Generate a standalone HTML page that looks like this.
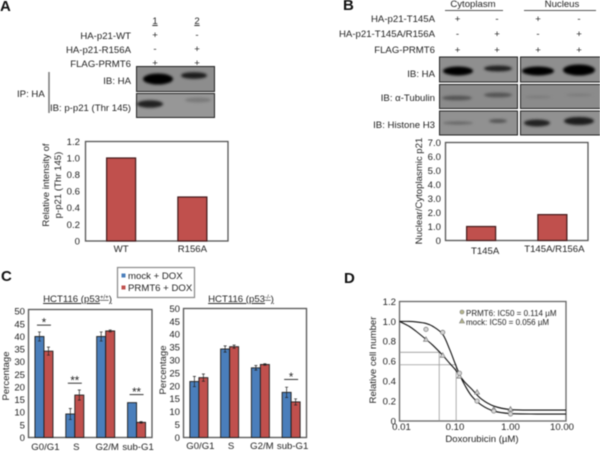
<!DOCTYPE html>
<html><head><meta charset="utf-8"><title>Figure</title>
<style>
html,body{margin:0;padding:0;background:#fff;width:600px;height:451px;overflow:hidden}
#fig{display:block;filter:blur(0.4px)}
text{font-family:"Liberation Sans",sans-serif;font-size:9.6px;fill:#222}
.e{text-anchor:end}.m{text-anchor:middle}
.p{font-weight:bold;font-size:15px;fill:#111}
</style></head>
<body>
<svg id="fig" width="600" height="451" viewBox="0 0 600 451" xmlns="http://www.w3.org/2000/svg">
<defs>
<filter id="b1" x="-40%" y="-80%" width="180%" height="260%"><feGaussianBlur stdDeviation="1.3"/></filter>
</defs>
<rect width="600" height="451" fill="#fff"/>

<text class="p" x="0" y="11">A</text>
<text class="p" x="343" y="10">B</text>
<text class="p" x="1" y="281">C</text>
<text class="p" x="344" y="283">D</text>

<g>
<text class="m" x="155" y="24" text-decoration="underline">1</text>
<text class="m" x="197" y="24" text-decoration="underline">2</text>
<text class="e" x="131" y="39">HA-p21-WT</text>
<text class="e" x="131" y="53">HA-p21-R156A</text>
<text class="e" x="131" y="67">FLAG-PRMT6</text>
<text class="m" x="155" y="38">+</text><text class="m" x="197" y="38">-</text>
<text class="m" x="155" y="52">-</text><text class="m" x="197" y="52">+</text>
<text class="m" x="155" y="66">+</text><text class="m" x="197" y="66">+</text>
<rect x="136.5" y="66.5" width="78" height="25" fill="#8d8d8d" stroke="#222"/>
<rect x="136.5" y="93.5" width="78" height="24" fill="#979797" stroke="#222"/>
<ellipse cx="158" cy="79" rx="15" ry="5.5" fill="#000" filter="url(#b1)"/>
<ellipse cx="194" cy="75.5" rx="13" ry="3.3" fill="#1a1a1a" filter="url(#b1)"/>
<ellipse cx="150" cy="104" rx="13" ry="3.8" fill="#222" filter="url(#b1)"/>
<ellipse cx="198" cy="100" rx="13" ry="2.5" fill="#7a7a7a" filter="url(#b1)"/>
<text class="e" x="131" y="84">IB: HA</text>
<text class="e" x="131" y="111">IB: p-p21 (Thr 145)</text>
<text x="17" y="97">IP: HA</text>
<line x1="49" y1="72" x2="49" y2="113" stroke="#777" stroke-width="1.5"/>
</g>

<g>
<text class="m" x="473" y="7">Cytoplasm</text>
<text class="m" x="562" y="7">Nucleus</text>
<line x1="445" y1="10.5" x2="503" y2="10.5" stroke="#555"/>
<line x1="524" y1="10.5" x2="596" y2="10.5" stroke="#555"/>
<text class="e" x="435" y="22">HA-p21-T145A</text>
<text class="e" x="435" y="37">HA-p21-T145A/R156A</text>
<text class="e" x="435" y="53">FLAG-PRMT6</text>
<text class="m" x="457.5" y="22">+</text><text class="m" x="497" y="22">-</text><text class="m" x="538" y="22">+</text><text class="m" x="579" y="22">-</text>
<text class="m" x="457.5" y="37">-</text><text class="m" x="497" y="37">+</text><text class="m" x="538" y="37">-</text><text class="m" x="579" y="37">+</text>
<text class="m" x="457.5" y="53">+</text><text class="m" x="497" y="53">+</text><text class="m" x="538" y="53">+</text><text class="m" x="579" y="53">+</text>
<rect x="439.5" y="57" width="78" height="25" fill="#8f8f8f" stroke="#222"/>
<rect x="520.5" y="57" width="80" height="25" fill="#8f8f8f" stroke="#222"/>
<rect x="439.5" y="84.5" width="78" height="24" fill="#8b8b8b" stroke="#222"/>
<rect x="520.5" y="84.5" width="80" height="24" fill="#8b8b8b" stroke="#222"/>
<rect x="439.5" y="111" width="78" height="24" fill="#919191" stroke="#222"/>
<rect x="520.5" y="111" width="80" height="24" fill="#919191" stroke="#222"/>
<g filter="url(#b1)">
<ellipse cx="458" cy="71" rx="15" ry="4.5" fill="#000"/><ellipse cx="498" cy="68.5" rx="14" ry="3" fill="#222"/>
<ellipse cx="538" cy="71" rx="16" ry="4.5" fill="#000"/><ellipse cx="579" cy="70" rx="16" ry="5.5" fill="#000"/>
<ellipse cx="457" cy="98" rx="15" ry="2.4" fill="#555"/><ellipse cx="498" cy="95" rx="14" ry="2.4" fill="#555"/>
<ellipse cx="538" cy="97" rx="13" ry="1.2" fill="#7a7a7a"/><ellipse cx="579" cy="95" rx="13" ry="1.2" fill="#7a7a7a"/>
<ellipse cx="458" cy="123" rx="15" ry="1.5" fill="#666"/><ellipse cx="498" cy="121" rx="9" ry="2" fill="#555"/>
<ellipse cx="537" cy="123" rx="13" ry="3.5" fill="#222"/><ellipse cx="579" cy="121" rx="15" ry="4" fill="#1a1a1a"/>
</g>
<text class="e" x="435" y="77">IB: HA</text>
<text class="e" x="435" y="101">IB: α-Tubulin</text>
<text class="e" x="435" y="128">IB: Histone H3</text>
</g>

<g id="charts"></g>

<text class="m" transform="translate(49,185) rotate(-90)">Relative intensity of</text>
<text class="m" transform="translate(61,185) rotate(-90)">p-p21 (Thr 145)</text>
<text class="m" transform="translate(422,191) rotate(-90)">Nuclear/Cytoplasmic p21</text>
<text class="m" transform="translate(9,376) rotate(-90)">Percentage</text>
<text class="m" transform="translate(166,370) rotate(-90)">Percentage</text>
<text class="m" transform="translate(376,360) rotate(-90)">Relative cell number</text>

<text class="m" x="77.5" y="302" text-decoration="underline">HCT116 (p53<tspan font-size="6" dy="-3">+/+</tspan><tspan dy="3">)</tspan></text>
<text class="m" x="241" y="302" text-decoration="underline">HCT116 (p53<tspan font-size="6" dy="-3">-/-</tspan><tspan dy="3">)</tspan></text>

<g>
<rect x="117.5" y="267.5" width="77" height="30" fill="#fff" stroke="#888" stroke-width="1.2"/>
<rect x="121.5" y="273.5" width="4" height="4" fill="#4a7ebb"/>
<text x="128" y="279">mock + DOX</text>
<rect x="121.5" y="285.5" width="4" height="4" fill="#c0504d"/>
<text x="128" y="291">PRMT6 + DOX</text>
</g>

<g>
<circle cx="462" cy="312" r="2" fill="#b5b58c" stroke="#777" stroke-width=".6"/>
<text x="466" y="316" style="font-size:8px">PRMT6: IC50 = 0.114 µM</text>
<polygon points="462,318.5 464.5,323 459.5,323" fill="#b5b58c" stroke="#777" stroke-width=".6"/>
<text x="466" y="325" style="font-size:8px">mock: IC50 = 0.056 µM</text>
</g>
<text class="m" x="482" y="442">Doxorubicin (µM)</text>
</svg>

<script>
// Panel A
const aCategories = ['WT', 'R156A'];
const aValues = [1.0, 0.53];
const aTicks = ['0', '0.2', '0.4', '0.6', '0.8', '1.0', '1.2'];
// Panel B
const bCategories = ['T145A', 'T145A/R156A'];
const bValues = [1.0, 1.85];
const bTicks = ['0', '1.0', '2.0', '3.0', '4.0', '5.0', '6.0', '7.0'];
// Panel C
const cCategories = ['G0/G1', 'S', 'G2/M', 'sub-G1'];
const cTicks = ['0', '5', '10', '15', '20', '25', '30', '35', '40', '45', '50'];
const c1Mock = [40, 9.3, 40, 13.8];
const c1MockErr = [1.8, 2.2, 1.8, 0];
const c1Prmt6 = [34.2, 16.8, 42.2, 6];
const c1Prmt6Err = [1.6, 2, 0.4, 0.3];
const c1SigLabels = ['*', '**', '', '**'];
const c1SigLevels = [44.5, 21.5, 0, 17];
const c2Mock = [21.7, 34.3, 27, 17.5];
const c2MockErr = [2, 1.2, 0.9, 2];
const c2Prmt6 = [23.2, 35.2, 28.3, 13.8];
const c2Prmt6Err = [1.4, 0.6, 0.3, 1.2];
const c2SigLabels = ['', '', '', '*'];
const c2SigLevels = [0, 0, 0, 22.5];
// Panel D
const dYTicks = ['0', '0.2', '0.4', '0.6', '0.8', '1.0', '1.2'];
const dXTicks = ['0.01', '0.10', '1.00', '10.00'];
const dCurveDose = [0.01, 0.015, 0.02, 0.03, 0.04, 0.06, 0.08, 0.1, 0.12, 0.15, 0.2, 0.3, 0.5, 1, 3, 10];
const dPrmt6Curve = [1.0, 1.0, 0.995, 0.98, 0.95, 0.87, 0.72, 0.58, 0.47, 0.36, 0.25, 0.16, 0.1, 0.075, 0.07, 0.07];
const dMockCurve = [1.0, 0.95, 0.9, 0.82, 0.76, 0.66, 0.58, 0.52, 0.46, 0.39, 0.32, 0.22, 0.15, 0.115, 0.11, 0.11];
const dPointDose = [0.03, 0.06, 0.12, 0.25, 0.5, 1];
const dPrmt6Points = [0.92, 0.89, 0.48, 0.2, 0.1, 0.07];
const dMockPoints = [0.82, 0.66, 0.45, 0.29, 0.12, 0.12];
const dGuideDose = [0.052, 0.105];
const dGuideValue = [0.69, 0.565];

const NS = 'http://www.w3.org/2000/svg';
const root = document.getElementById('charts');
function make(tag, attrs, parent) {
  const el = document.createElementNS(NS, tag);
  for (const k in attrs) el.setAttribute(k, attrs[k]);
  (parent || root).appendChild(el);
  return el;
}
function label(txt, x, y, anchor, parent) {
  const t = make('text', {x: x, y: y, 'text-anchor': anchor}, parent);
  t.textContent = txt;
  return t;
}
function yTickLabels(ticks, y, step, x, parent) {
  ticks.forEach(function (tk, i) {
    const t = label(tk, x, y(i * step) + 3.4, 'end', parent);
    
    
  });
}
function frame(x0, x1, y0, y1, top, color, parent) {
  const r = make('rect', {x: x0, y: top, width: x1 - x0, height: y0 - top, fill: 'none', stroke: color, 'stroke-width': 1.3}, parent);
  
  
}

function simpleBars(opts) {
  const g = make('g', {});
  
  
  const y = function (v) { return opts.y0 - v * opts.scale; };
  frame(opts.x0, opts.x1, opts.y0, 0, opts.top, '#555', g);
  yTickLabels(opts.ticks, y, opts.step, opts.tickX, g);
  const band = (opts.x1 - opts.x0) / opts.cats.length;
  opts.cats.forEach(function (c, i) {
    const cx = opts.x0 + band * (i + 0.5);
    const bar = make('rect', {x: cx - 14.5, y: y(opts.vals[i]), width: 29, height: opts.vals[i] * opts.scale, fill: '#c0504d', stroke: '#43191a', 'stroke-width': 1.2}, g);
    
    
    const t = label(c, cx + opts.labelDx[i], opts.labelY[i], 'middle', g);
    
    
  });
}
simpleBars({name: 'chart-a', cats: aCategories, vals: aValues, ticks: aTicks, step: 0.2, x0: 85.5, x1: 228, y0: 241, top: 141.5, scale: 83, tickX: 80, labelDx: [0, 0], labelY: [252, 252]});
simpleBars({name: 'chart-b', cats: bCategories, vals: bValues, ticks: bTicks, step: 1, x0: 445.5, x1: 588, y0: 240.5, top: 142.5, scale: 14, tickX: 441, labelDx: [4, 2], labelY: [254, 252]});

function groupedBars(opts) {
  const g = make('g', {});
  
  
  const y = function (v) { return opts.y0 - v * opts.scale; };
  frame(opts.x0, opts.x1, opts.y0, 0, opts.top, '#555', g);
  yTickLabels(cTicks, y, 5, opts.tickX, g);
  const band = (opts.x1 - opts.x0) / cCategories.length;
  const w = 9;
  function drawBar(cx, v, e, fill) {
    const b = make('rect', {x: cx, y: y(v), width: w, height: v * opts.scale, fill: fill, stroke: '#1c1c1c', 'stroke-width': 0.9}, g);
    
    
    if (e > 0) {
      const mid = cx + w / 2;
      const p = make('path', {d: 'M' + mid + ' ' + y(v + e) + 'V' + y(v - e) + 'M' + (mid - 1.5) + ' ' + y(v + e) + 'H' + (mid + 1.5) + 'M' + (mid - 1.5) + ' ' + y(v - e) + 'H' + (mid + 1.5), stroke: '#222', 'stroke-width': 0.7, fill: 'none'}, g);
      
      
    }
  }
  cCategories.forEach(function (c, i) {
    const cx = opts.x0 + band * (i + 0.5);
    drawBar(cx - w, opts.mock[i], opts.mockErr[i], '#4a7ebb');
    drawBar(cx, opts.prmt6[i], opts.prmt6Err[i], '#c0504d');
    const t = label(c, cx + 1.5, opts.labelY, 'middle', g);
    
    
    if (opts.sig[i]) {
      const ly = y(opts.sigLevel[i]);
      const l = make('line', {x1: cx - 7, x2: cx + 7, y1: ly, y2: ly, stroke: '#333', 'stroke-width': 1}, g);
      
      
      const s = label(opts.sig[i], cx, ly + 1.5, 'middle', g);
      s.setAttribute('style', 'font-size:11.5px');
      
      
    }
  });
}
groupedBars({name: 'chart-c1', mock: c1Mock, mockErr: c1MockErr, prmt6: c1Prmt6, prmt6Err: c1Prmt6Err, sig: c1SigLabels, sigLevel: c1SigLevels, x0: 28.5, x1: 152, y0: 437.5, top: 309.5, scale: 2.525, tickX: 25, labelY: 450});
groupedBars({name: 'chart-c2', mock: c2Mock, mockErr: c2MockErr, prmt6: c2Prmt6, prmt6Err: c2Prmt6Err, sig: c2SigLabels, sigLevel: c2SigLevels, x0: 183.5, x1: 306.5, y0: 437.5, top: 308.5, scale: 2.58, tickX: 180, labelY: 449});

// Dose-response chart
(function () {
  const g = make('g', {});
  
  
  const x0 = 399.5, x1 = 566, y0 = 421, top = 301.5;
  const X = function (d) { return x0 + (Math.log10(d) + 2) / 3 * (x1 - x0); };
  const Y = function (v) { return y0 - v / 1.2 * (y0 - top); };
  frame(x0, x1, y0, 0, top, '#666', g);
  yTickLabels(dYTicks, Y, 0.2, 396, g);
  dXTicks.forEach(function (tk) {
    const d = parseFloat(tk);
    const dx = d === 10 ? -4 : (d === 0.01 ? 2 : 0);
    const t = label(tk, X(d) + dx, 430, 'middle', g);
    
    
  });
  dGuideDose.forEach(function (d, i) {
    const v = dGuideValue[i];
    const p = make('path', {d: 'M' + x0 + ' ' + Y(v) + 'H' + X(d) + 'V' + y0, fill: 'none', stroke: '#999', 'stroke-width': 0.8}, g);
    
    
  });
  function smooth(vals) {
    const pts = dCurveDose.map(function (d, i) { return [X(d), Y(vals[i])]; });
    let s = 'M' + pts[0][0] + ' ' + pts[0][1];
    for (let i = 0; i < pts.length - 1; i++) {
      const p0 = pts[Math.max(i - 1, 0)], p1 = pts[i], p2 = pts[i + 1], p3 = pts[Math.min(i + 2, pts.length - 1)];
      s += 'C' + (p1[0] + (p2[0] - p0[0]) / 6) + ' ' + (p1[1] + (p2[1] - p0[1]) / 6) + ' ' + (p2[0] - (p3[0] - p1[0]) / 6) + ' ' + (p2[1] - (p3[1] - p1[1]) / 6) + ' ' + p2[0] + ' ' + p2[1];
    }
    return s;
  }
  const c1 = make('path', {d: smooth(dPrmt6Curve), fill: 'none', stroke: '#111', 'stroke-width': 1.1}, g);
  
  
  const c2 = make('path', {d: smooth(dMockCurve), fill: 'none', stroke: '#111', 'stroke-width': 1.1}, g);
  
  
  dPointDose.forEach(function (d, i) {
    const px = X(d), py = Y(dMockPoints[i]);
    const tri = make('polygon', {points: px + ',' + (py - 2.5) + ' ' + (px + 2.5) + ',' + (py + 2) + ' ' + (px - 2.5) + ',' + (py + 2), fill: '#d5d5d5', stroke: '#666', 'stroke-width': 0.6}, g);
    
    
    const c = make('circle', {cx: px, cy: Y(dPrmt6Points[i]), r: 2.2, fill: '#d5d5d5', stroke: '#666', 'stroke-width': 0.6}, g);
    
    
  });
})();
</script>
</body></html>
